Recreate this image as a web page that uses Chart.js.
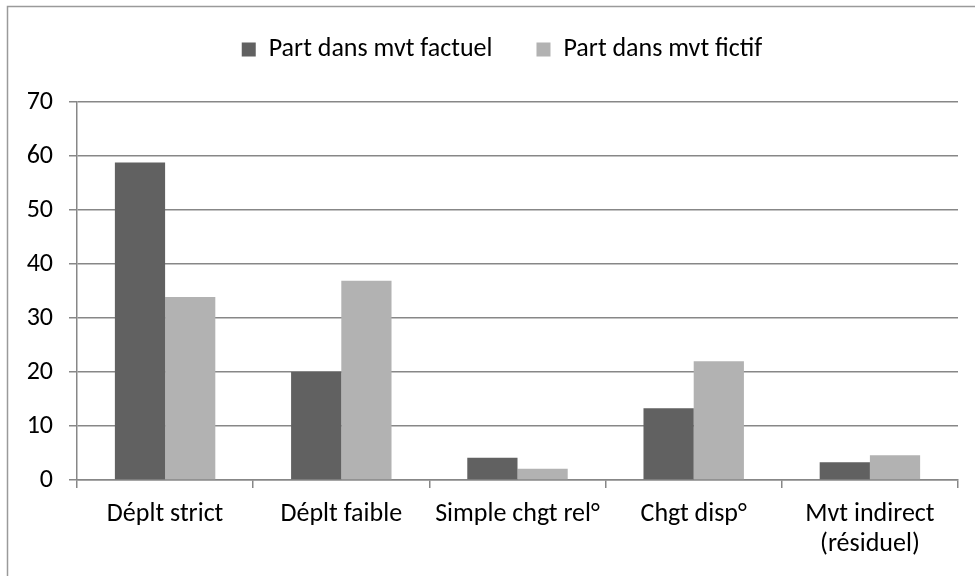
<!DOCTYPE html>
<html>
<head>
<meta charset="utf-8">
<script src="https://cdn.jsdelivr.net/npm/chart.js@4"></script>
<style>
  html, body { margin: 0; padding: 0; background: #ffffff; }
  #wrap { position: relative; width: 975px; height: 576px; }
</style>
</head>
<body>
<div id="wrap"><canvas id="c" width="975" height="576"></canvas></div>
<script>
const categories = ['Déplt strict', 'Déplt faible', 'Simple chgt rel°', 'Chgt disp°', ['Mvt indirect', '(résiduel)']];
const seriesNames = ['Part dans mvt factuel', 'Part dans mvt fictif'];
const factuel = [58.8, 20.0, 4.1, 13.3, 3.3];
const fictif = [33.9, 36.9, 2.1, 22.0, 4.6];
const yTicks = [0, 10, 20, 30, 40, 50, 60, 70];

const FONT = 'Carlito, Lato, "Liberation Sans", sans-serif';
const GRID = '#878787';

const frame = {
  id: 'frame',
  afterDraw(chart) {
    const ctx = chart.ctx;
    ctx.save();
    ctx.strokeStyle = '#9a9a9a';
    ctx.lineWidth = 1.5;
    ctx.beginPath();
    ctx.moveTo(7.5, 600);
    ctx.lineTo(7.5, 6.5);
    ctx.lineTo(1000, 6.5);
    ctx.stroke();
    ctx.restore();
  }
};

const legendFix = {
  id: 'legendFix',
  beforeInit(chart) {
    const lg = chart.legend;
    if (!lg) return;
    const orig = lg.fit;
    lg.fit = function () {
      orig.call(this);
      this.height = 94;
    };
  },
  afterLayout(chart) {
    const lg = chart.legend;
    lg.top -= 15.5; lg.bottom -= 15.5;
    lg.left += 23; lg.right += 23;
  }
};

new Chart(document.getElementById('c'), {
  type: 'bar',
  data: {
    labels: categories,
    datasets: [
      { label: seriesNames[0], data: factuel, backgroundColor: '#616161', borderWidth: 0 },
      { label: seriesNames[1], data: fictif, backgroundColor: '#b2b2b2', borderWidth: 0 }
    ]
  },
  options: {
    responsive: false,
    animation: false,
    devicePixelRatio: 1,
    layout: { padding: { left: 0, right: 17, top: 8, bottom: 0 } },
    datasets: { bar: { barPercentage: 1.0, categoryPercentage: 0.57 } },
    plugins: {
      legend: {
        position: 'top',
        align: 'center',
        labels: {
          font: { family: FONT, size: 26 },
          color: '#000',
          boxWidth: 14,
          boxHeight: 14,
          padding: 44
        }
      },
      tooltip: { enabled: false }
    },
    scales: {
      x: {
        offset: true,
        grid: { display: true, drawOnChartArea: false, drawTicks: true, tickLength: 8, color: GRID, lineWidth: 1.5, offset: true },
        border: { display: true, color: GRID, width: 1.5 },
        ticks: {
          font: { family: FONT, size: 26, lineHeight: 1.15 },
          color: '#000',
          maxRotation: 0, minRotation: 0, autoSkip: false,
          padding: 12
        },
        afterFit(s) { s.height = 96; }
      },
      y: {
        min: 0, max: 70,
        afterBuildTicks(s) { s.ticks = yTicks.map(v => ({ value: v })); },
        grid: { display: true, drawTicks: true, tickLength: 8, color: GRID, lineWidth: 1.5 },
        border: { display: true, color: GRID, width: 1.5 },
        ticks: {
          font: { family: FONT, size: 26 },
          color: '#000',
          padding: 16
        },
        afterFit(s) { s.width = 77; }
      }
    }
  },
  plugins: [legendFix, frame]
});
</script>
</body>
</html>
